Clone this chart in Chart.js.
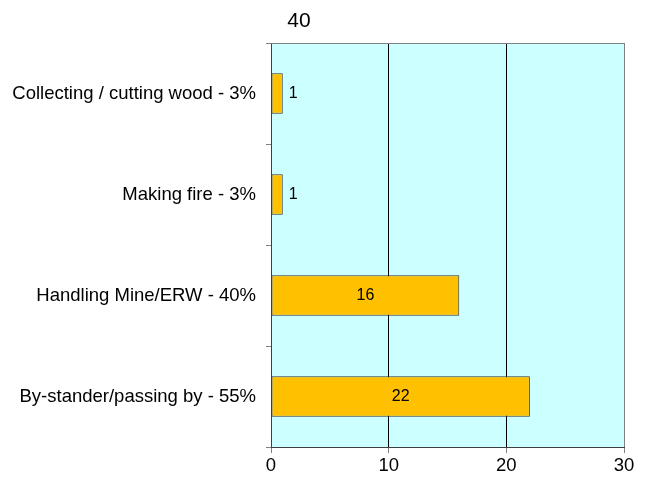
<!DOCTYPE html>
<html><head><meta charset="utf-8">
<script src="https://cdn.jsdelivr.net/npm/chart.js@4"></script>
<style>html,body{margin:0;padding:0;background:#fff}#wrap{width:649px;height:480px}</style>
</head><body><div id="wrap"><canvas id="c" width="649" height="480"></canvas></div>
<script>
const categories = ["Collecting / cutting wood - 3%", "Making fire - 3%", "Handling Mine/ERW - 40%", "By-stander/passing by - 55%"];
const values = [1, 1, 16, 22];
const titleText = "40";
const xTicks = [0, 10, 20, 30];

const FONT = '"Liberation Sans", Arial, sans-serif';

const bgPlugin = {
  id: 'bg',
  beforeDraw(chart) {
    const a = chart.chartArea, ctx = chart.ctx;
    ctx.save();
    ctx.fillStyle = '#CCFFFF';
    ctx.fillRect(a.left, a.top, a.right - a.left, a.bottom - a.top);
    ctx.restore();
  },
  afterDraw(chart) {
    const a = chart.chartArea, ctx = chart.ctx;
    ctx.save();
    ctx.strokeStyle = '#808080';
    ctx.lineWidth = 1;
    ctx.beginPath();
    ctx.moveTo(a.left, a.top + 0.5); ctx.lineTo(a.right, a.top + 0.5);
    ctx.stroke();
    ctx.fillStyle = '#000';
    ctx.font = '21px ' + FONT;
    ctx.textAlign = 'center';
    ctx.textBaseline = 'middle';
    ctx.fillText(titleText, a.left + 28, 21);
    ctx.font = '16px ' + FONT;
    const meta = chart.getDatasetMeta(0);
    meta.data.forEach((bar, i) => {
      const w = bar.x - bar.base;
      if (w < 30) {
        ctx.textAlign = 'left';
        ctx.fillText(String(values[i]), bar.x + 6, bar.y);
      } else {
        ctx.textAlign = 'center';
        ctx.fillText(String(values[i]), (bar.x + bar.base) / 2, bar.y);
      }
    });
    ctx.restore();
  }
};

new Chart(document.getElementById('c'), {
  type: 'bar',
  data: {
    labels: categories,
    datasets: [{
      data: values,
      backgroundColor: '#FFC000',
      borderColor: '#333333',
      borderWidth: 1,
      borderSkipped: false,
      barPercentage: 0.4,
      categoryPercentage: 1.0
    }]
  },
  options: {
    indexAxis: 'y',
    responsive: false,
    animation: false,
    devicePixelRatio: 1,
    layout: { padding: { top: 43, right: 25, left: 0, bottom: 0 } },
    plugins: { legend: { display: false }, tooltip: { enabled: false }, title: { display: false } },
    scales: {
      x: {
        min: 0, max: 30,
        afterBuildTicks(scale) { scale.ticks = xTicks.map(v => ({ value: v })); },
        afterFit(scale) { scale.height = 33; },
        grid: {
          drawOnChartArea: true,
          color: ctx => (ctx.tick && (ctx.tick.value === 0 || ctx.tick.value === 30)) ? '#808080' : '#000000',
          tickColor: '#808080',
          tickLength: 6,
          lineWidth: 1
        },
        border: { display: true, color: '#404040', width: 1 },
        ticks: { color: '#000', font: { size: 18.5, family: FONT }, padding: 2 }
      },
      y: {
        afterFit(scale) { scale.width = 271; },
        grid: { offset: true, drawOnChartArea: false, tickLength: 5, color: '#808080' },
        border: { display: true, color: '#404040', width: 1 },
        ticks: { color: '#000', font: { size: 18.5, family: FONT }, padding: 10 }
      }
    }
  },
  plugins: [bgPlugin]
});
</script></body></html>
